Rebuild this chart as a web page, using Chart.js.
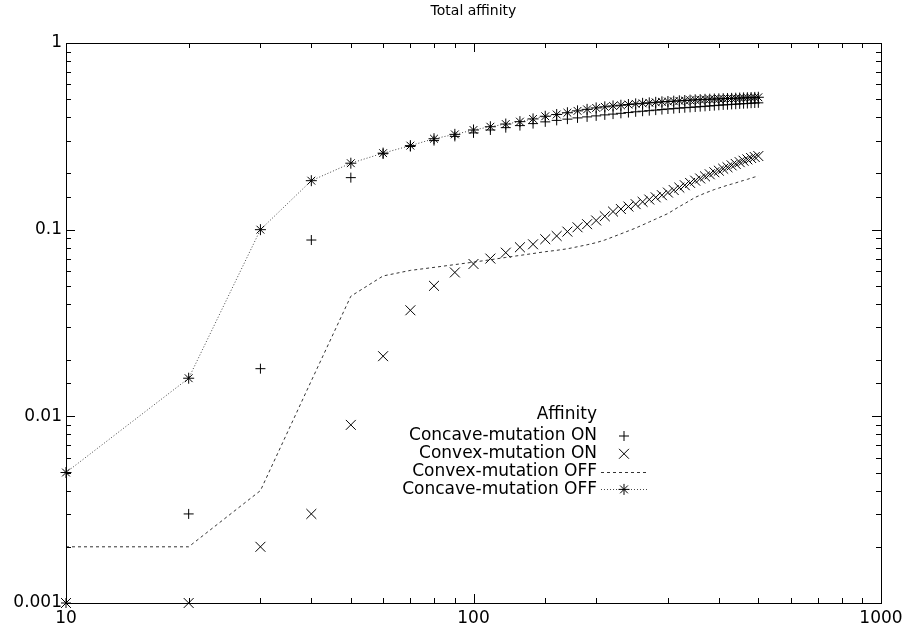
<!DOCTYPE html>
<html lang="en">
<head>
  <meta charset="UTF-8">
  <title>Total affinity</title>
  <script src="https://cdn.jsdelivr.net/npm/chart.js"></script>
  <style>
    html, body { margin: 0; padding: 0; background: #fff; }
  </style>
</head>
<body>
  <canvas id="chart" width="911" height="634"></canvas>

  <script>
    // generations (x)
    const gens = [10, 20, 30, 40, 50, 60, 70, 80, 90, 100,
                  110, 120, 130, 140, 150, 160, 170, 180, 190, 200,
                  210, 220, 230, 240, 250, 260, 270, 280, 290, 300,
                  310, 320, 330, 340, 350, 360, 370, 380, 390, 400,
                  410, 420, 430, 440, 450, 460, 470, 480, 490, 500];

    const concaveOn = [0.001, 0.003, 0.018, 0.088, 0.19, 0.255, 0.279, 0.3, 0.316, 0.33,
                       0.342, 0.352, 0.361, 0.37, 0.378, 0.385, 0.391, 0.397, 0.402, 0.407,
                       0.412, 0.416, 0.42, 0.424, 0.428, 0.431, 0.434, 0.437, 0.44, 0.443,
                       0.445, 0.448, 0.45, 0.452, 0.454, 0.456, 0.458, 0.46, 0.462, 0.464,
                       0.466, 0.467, 0.469, 0.47, 0.472, 0.473, 0.474, 0.476, 0.477, 0.478];

    const convexOn = [0.001, 0.001, 0.002, 0.003, 0.009, 0.021, 0.037, 0.05, 0.059, 0.0655,
                      0.07, 0.0753, 0.0805, 0.0835, 0.0889, 0.0925, 0.0976, 0.103, 0.107, 0.112,
                      0.118, 0.125, 0.129, 0.133, 0.137, 0.141, 0.145, 0.149, 0.153, 0.158,
                      0.163, 0.168, 0.173, 0.178, 0.183, 0.188, 0.193, 0.198, 0.203, 0.207,
                      0.212, 0.216, 0.221, 0.225, 0.23, 0.234, 0.238, 0.242, 0.245, 0.248];

    const convexOff = [0.002, 0.002, 0.004, 0.0155, 0.044, 0.0565, 0.0605, 0.0628, 0.065, 0.067,
                       0.069, 0.071, 0.0728, 0.0745, 0.0762, 0.0775, 0.079, 0.081, 0.083, 0.0852,
                       0.088, 0.0915, 0.095, 0.0985, 0.102, 0.106, 0.11, 0.114, 0.118, 0.122,
                       0.1275, 0.133, 0.138, 0.1435, 0.149, 0.153, 0.157, 0.1605, 0.164, 0.167,
                       0.17, 0.173, 0.1755, 0.178, 0.181, 0.1835, 0.186, 0.189, 0.1915, 0.194];

    const concaveOff = [0.005, 0.016, 0.1, 0.183, 0.227, 0.257, 0.282, 0.307, 0.324, 0.342,
                        0.356, 0.368, 0.379, 0.392, 0.405, 0.414, 0.423, 0.433, 0.441, 0.449,
                        0.455, 0.46, 0.464, 0.468, 0.472, 0.475, 0.478, 0.481, 0.484, 0.486,
                        0.488, 0.49, 0.492, 0.494, 0.496, 0.497, 0.499, 0.5, 0.501, 0.502,
                        0.503, 0.504, 0.505, 0.506, 0.507, 0.508, 0.509, 0.51, 0.511, 0.512];

    const seriesNames = ['Concave-mutation ON', 'Convex-mutation ON', 'Convex-mutation OFF', 'Concave-mutation OFF'];
    const legendTitle = 'Affinity';
    const xTicks = [10, 100, 1000];
    const yTicks = [0.001, 0.01, 0.1, 1];

    const FONT = 'DejaVu Sans';
    Chart.defaults.font.family = FONT;
    Chart.defaults.color = '#000';

    const pts = ys => gens.map((g, i) => ({ x: g, y: ys[i] }));
    const isMajor = v => Math.abs(Math.log10(v) - Math.round(Math.log10(v))) < 1e-6;

    // inward ticks on all four sides + frame, gnuplot style
    const frameTicks = {
      id: 'frameTicks',
      afterDatasetsDraw(chart) {
        const { ctx, chartArea: a, scales: { x, y } } = chart;
        ctx.save();
        ctx.strokeStyle = '#000';
        ctx.lineWidth = 1;
        ctx.beginPath();
        x.ticks.forEach(t => {
          const px = Math.round(x.getPixelForValue(t.value)) + 0.5;
          const len = isMajor(t.value) ? 9 : 5;
          ctx.moveTo(px, a.bottom); ctx.lineTo(px, a.bottom - len);
          ctx.moveTo(px, a.top); ctx.lineTo(px, a.top + len);
        });
        y.ticks.forEach(t => {
          const py = Math.round(y.getPixelForValue(t.value)) + 0.5;
          const len = isMajor(t.value) ? 9 : 5;
          ctx.moveTo(a.left, py); ctx.lineTo(a.left + len, py);
          ctx.moveTo(a.right, py); ctx.lineTo(a.right - len, py);
        });
        ctx.stroke();
        ctx.strokeRect(Math.round(a.left) + 0.5, Math.round(a.top) + 0.5,
                       Math.round(a.right - a.left), Math.round(a.bottom - a.top));
        ctx.restore();
      }
    };

    // key box inside the plot, text right-justified then a sample
    const keyBox = {
      id: 'keyBox',
      afterDraw(chart) {
        const { ctx } = chart;
        const textRight = 597, sx0 = 601, sx1 = 647, row0 = 436, rowH = 17.8;
        ctx.save();
        ctx.font = '17px ' + FONT;
        ctx.fillStyle = '#000';
        ctx.textAlign = 'right';
        ctx.textBaseline = 'middle';
        ctx.fillText(legendTitle, textRight, 415);
        chart.data.datasets.forEach((ds, i) => {
          const yy = row0 + i * rowH;
          ctx.fillText(ds.label, textRight, yy);
          if (ds.showLine) {
            ctx.strokeStyle = ds.borderColor;
            ctx.lineWidth = 1;
            ctx.setLineDash(ds.borderDash || []);
            ctx.beginPath();
            ctx.moveTo(sx0, Math.round(yy) + 0.5);
            ctx.lineTo(sx1, Math.round(yy) + 0.5);
            ctx.stroke();
            ctx.setLineDash([]);
          }
          if (ds.pointRadius > 0) {
            ctx.strokeStyle = '#000';
            ctx.lineWidth = 1;
            Chart.helpers.drawPoint(ctx, {
              pointStyle: ds.pointStyle, radius: ds.pointRadius, rotation: 0, borderWidth: 1
            }, (sx0 + sx1) / 2, yy);
          }
        });
        ctx.restore();
      }
    };

    const ctx = document.getElementById('chart').getContext('2d');
    new Chart(ctx, {
      type: 'scatter',
      data: {
        datasets: [
          {
            label: seriesNames[0], data: pts(concaveOn), showLine: false,
            pointStyle: 'cross', pointRadius: 5, pointBorderWidth: 1,
            borderColor: '#000', backgroundColor: '#000', clip: false
          },
          {
            label: seriesNames[1], data: pts(convexOn), showLine: false,
            pointStyle: 'crossRot', pointRadius: 7, pointBorderWidth: 1,
            borderColor: '#000', backgroundColor: '#000', clip: false
          },
          {
            label: seriesNames[2], data: pts(convexOff), showLine: true,
            pointRadius: 0, borderWidth: 1, borderDash: [3, 3],
            borderColor: '#333', backgroundColor: '#333', clip: false
          },
          {
            label: seriesNames[3], data: pts(concaveOff), showLine: true,
            pointStyle: 'star', pointRadius: 5.5, pointBorderWidth: 1,
            pointBorderColor: '#000', borderWidth: 1, borderDash: [1, 2],
            borderColor: '#444', backgroundColor: '#000', clip: false
          }
        ]
      },
      options: {
        responsive: false,
        animation: false,
        layout: { padding: { left: 0, right: 30, top: 0, bottom: 0 } },
        plugins: {
          legend: { display: false },
          tooltip: { enabled: false },
          title: {
            display: true, text: 'Total affinity', fullSize: false, color: '#000',
            font: { family: FONT, size: 14, weight: 'normal' },
            padding: { top: 3, bottom: 23.2 }
          }
        },
        scales: {
          x: {
            type: 'logarithmic', min: 10, max: 1000,
            grid: { display: false, drawTicks: false },
            border: { display: false },
            afterFit: s => { s.height = 31; },
            ticks: {
              autoSkip: false, maxRotation: 0, padding: 5,
              font: { size: 17 },
              callback: v => xTicks.includes(v) ? String(v) : ''
            }
          },
          y: {
            type: 'logarithmic', min: 0.001, max: 1,
            grid: { display: false, drawTicks: false },
            border: { display: false },
            afterFit: s => { s.width = 66; },
            ticks: {
              autoSkip: false, padding: 4,
              font: { size: 17 },
              callback: v => yTicks.some(t => Math.abs(t - v) < t * 1e-6) ? String(v) : ''
            }
          }
        }
      },
      plugins: [frameTicks, keyBox]
    });
  </script>
</body>
</html>
